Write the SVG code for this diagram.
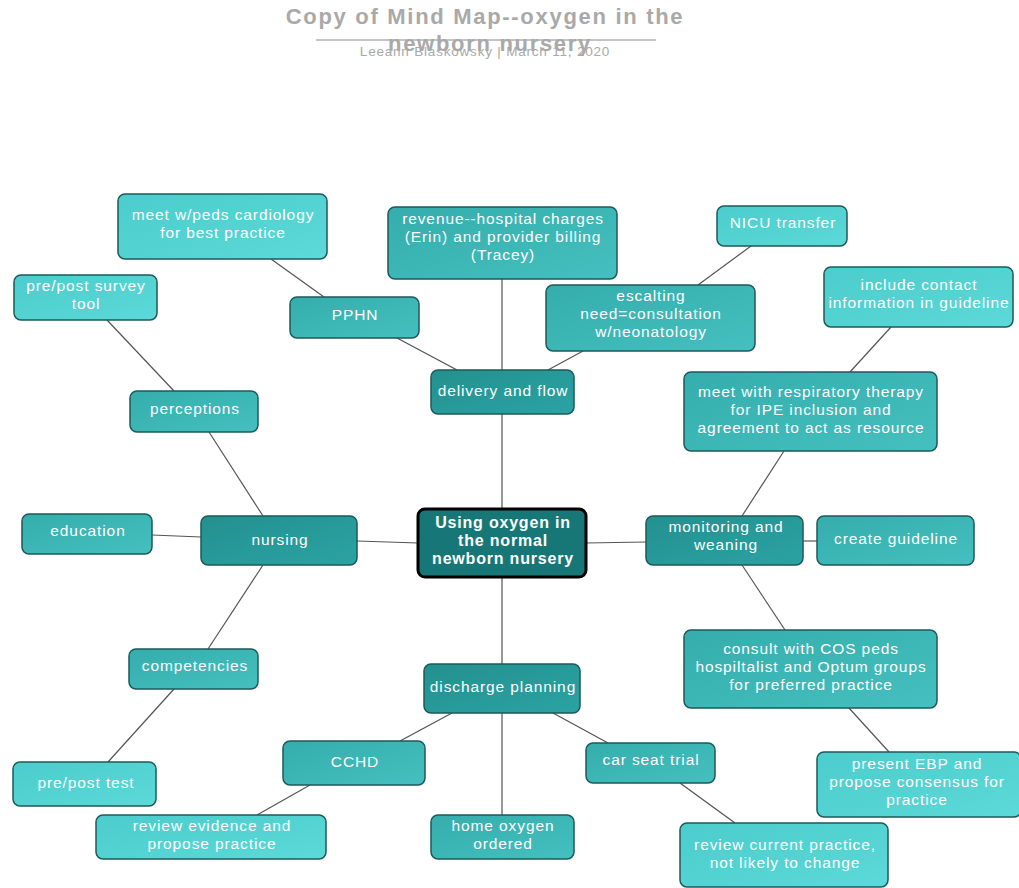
<svg xmlns="http://www.w3.org/2000/svg" width="1019" height="888" viewBox="0 0 1019 888">
<defs>
<linearGradient id="g1" x1="0" y1="0" x2="1" y2="1"><stop offset="0" stop-color="#23908f"/><stop offset="1" stop-color="#2ba3a3"/></linearGradient>
<linearGradient id="g2" x1="0" y1="0" x2="1" y2="1"><stop offset="0" stop-color="#35adad"/><stop offset="1" stop-color="#45bfbf"/></linearGradient>
<linearGradient id="g3" x1="0" y1="0" x2="1" y2="1"><stop offset="0" stop-color="#4ccccc"/><stop offset="1" stop-color="#5cd9d9"/></linearGradient>
</defs>
<style>
.n rect{stroke:#1d5a5a;stroke-width:1.5}
.l1 rect{fill:url(#g1)}
.l2 rect{fill:url(#g2)}
.l3 rect{fill:url(#g3)}
.n text{font-family:"Liberation Sans",Arial,sans-serif;font-size:15.5px;letter-spacing:0.9px;fill:#ffffff;text-anchor:middle}
.c text{font-weight:bold;font-size:16px;letter-spacing:0.8px}
.conn line{stroke:#555555;stroke-width:1.2}
.title{font-family:"Liberation Sans",Arial,sans-serif;fill:#a9a9a9;text-anchor:middle}
</style>
<g id="title">
<text class="title" x="485" y="24" font-size="22" font-weight="bold" letter-spacing="1.7">Copy of Mind Map--oxygen in the</text>
<line x1="316" y1="40" x2="656" y2="40" stroke="#b0b0b0" stroke-width="1.5"/>
<text class="title" x="485" y="56" font-size="13.5" letter-spacing="0.8">Leeann Blaskowsky  |  March 11, 2020</text>
<text class="title" x="490" y="51" font-size="22" font-weight="bold" letter-spacing="1.7">newborn nursery</text>
</g>
<g class="conn" id="connectors">
<line x1="271" y1="259" x2="324" y2="297"/>
<line x1="107" y1="320" x2="174" y2="391"/>
<line x1="397" y1="338" x2="457" y2="370"/>
<line x1="502" y1="279" x2="502" y2="370"/>
<line x1="583" y1="351" x2="548" y2="370"/>
<line x1="751" y1="246" x2="698" y2="285"/>
<line x1="891" y1="327" x2="850" y2="372"/>
<line x1="209" y1="432" x2="263" y2="516"/>
<line x1="502" y1="414" x2="502" y2="509"/>
<line x1="152" y1="535" x2="201" y2="537"/>
<line x1="357" y1="541" x2="418" y2="543"/>
<line x1="586" y1="543" x2="646" y2="542"/>
<line x1="803" y1="541" x2="817" y2="541"/>
<line x1="784" y1="451" x2="742" y2="516"/>
<line x1="263" y1="565" x2="208" y2="649"/>
<line x1="174" y1="689" x2="108" y2="762"/>
<line x1="502" y1="577" x2="502" y2="664"/>
<line x1="742" y1="565" x2="785" y2="630"/>
<line x1="849" y1="708" x2="889" y2="752"/>
<line x1="452" y1="713" x2="400" y2="741"/>
<line x1="502" y1="713" x2="502" y2="815"/>
<line x1="553" y1="713" x2="608" y2="743"/>
<line x1="310" y1="785" x2="257" y2="815"/>
<line x1="680" y1="783" x2="735" y2="823"/>
</g>
<g id="center" class="n c">
<rect x="418" y="509" width="168" height="68" rx="7" style="fill:#177777;stroke:#000;stroke-width:3"/>
<text x="503" y="528">Using oxygen in</text>
<text x="503" y="546">the normal</text>
<text x="503" y="564">newborn nursery</text>
</g>
<g id="nursing" class="n l1"><rect x="201" y="516" width="156" height="49" rx="7"/><text x="280" y="545">nursing</text></g>
<g id="delivery" class="n l1"><rect x="431" y="370" width="143" height="44" rx="7"/><text x="503" y="396">delivery and flow</text></g>
<g id="monitoring" class="n l1"><rect x="646" y="516" width="157" height="49" rx="7"/><text x="726" y="532">monitoring and</text><text x="726" y="550">weaning</text></g>
<g id="discharge" class="n l1"><rect x="424" y="664" width="156" height="49" rx="7"/><text x="503" y="692">discharge planning</text></g>
<g id="pphn" class="n l2"><rect x="290" y="297" width="129" height="41" rx="7"/><text x="355" y="320">PPHN</text></g>
<g id="revenue" class="n l2"><rect x="388" y="207" width="229" height="72" rx="7"/><text x="503" y="224">revenue--hospital charges</text><text x="503" y="242">(Erin) and provider billing</text><text x="503" y="260">(Tracey)</text></g>
<g id="escalting" class="n l2"><rect x="546" y="285" width="209" height="66" rx="7"/><text x="651" y="301">escalting</text><text x="651" y="319">need=consultation</text><text x="651" y="337">w/neonatology</text></g>
<g id="perceptions" class="n l2"><rect x="130" y="391" width="128" height="41" rx="7"/><text x="195" y="414">perceptions</text></g>
<g id="education" class="n l2"><rect x="22" y="514" width="130" height="40" rx="7"/><text x="88" y="536">education</text></g>
<g id="competencies" class="n l2"><rect x="129" y="649" width="129" height="40" rx="7"/><text x="195" y="671">competencies</text></g>
<g id="cchd" class="n l2"><rect x="283" y="741" width="142" height="44" rx="7"/><text x="355" y="767">CCHD</text></g>
<g id="carseat" class="n l2"><rect x="586" y="743" width="129" height="40" rx="7"/><text x="651" y="765">car seat trial</text></g>
<g id="homeoxygen" class="n l2"><rect x="431" y="815" width="143" height="44" rx="7"/><text x="503" y="831">home  oxygen</text><text x="503" y="849">ordered</text></g>
<g id="resp" class="n l2"><rect x="684" y="372" width="253" height="79" rx="7"/><text x="811" y="397">meet with respiratory therapy</text><text x="811" y="415">for IPE inclusion and</text><text x="811" y="433">agreement to act as resource</text></g>
<g id="guideline" class="n l2"><rect x="817" y="516" width="157" height="49" rx="7"/><text x="896" y="544">create guideline</text></g>
<g id="consult" class="n l2"><rect x="684" y="630" width="253" height="78" rx="7"/><text x="811" y="654">consult with COS peds</text><text x="811" y="672">hospiltalist and Optum groups</text><text x="811" y="690">for preferred practice</text></g>
<g id="peds" class="n l3"><rect x="118" y="194" width="209" height="65" rx="7"/><text x="223" y="220">meet w/peds cardiology</text><text x="223" y="238">for best practice</text></g>
<g id="survey" class="n l3"><rect x="14" y="275" width="143" height="45" rx="7"/><text x="86" y="291">pre/post survey</text><text x="86" y="309">tool</text></g>
<g id="nicu" class="n l3"><rect x="717" y="206" width="130" height="40" rx="7"/><text x="783" y="228">NICU transfer</text></g>
<g id="contact" class="n l3"><rect x="824" y="267" width="189" height="60" rx="7"/><text x="919" y="290">include contact</text><text x="919" y="308">information in guideline</text></g>
<g id="pretest" class="n l3"><rect x="13" y="762" width="143" height="44" rx="7"/><text x="86" y="788">pre/post test</text></g>
<g id="evidence" class="n l3"><rect x="96" y="815" width="230" height="44" rx="7"/><text x="212" y="831">review evidence and</text><text x="212" y="849">propose practice</text></g>
<g id="current" class="n l3"><rect x="680" y="823" width="208" height="64" rx="7"/><text x="785" y="850">review current practice,</text><text x="785" y="868">not likely to change</text></g>
<g id="ebp" class="n l3"><rect x="817" y="752" width="204" height="65" rx="7"/><text x="917" y="769">present EBP and</text><text x="917" y="787">propose consensus for</text><text x="917" y="805">practice</text></g>
</svg>
